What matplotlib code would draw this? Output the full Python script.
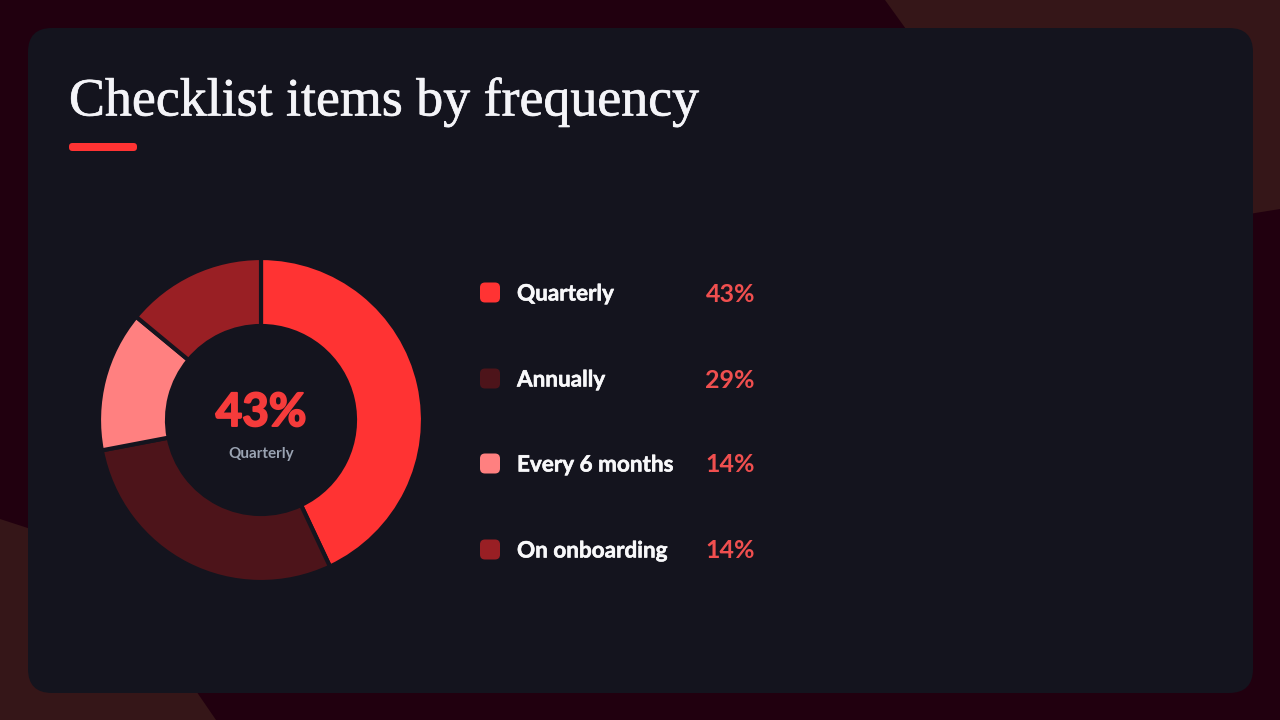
from matplotlib import pyplot as plt
from matplotlib import patheffects as pe
from matplotlib.patches import FancyBboxPatch, Polygon

categories = ['Quarterly', 'Annually', 'Every 6 months', 'On onboarding']
values = [43, 29, 14, 14]
pct_labels = ['43%', '29%', '14%', '14%']
slice_colors = ['#ff3333', '#4d141a', '#ff8080', '#991f24']

BG = '#21000f'
BLOB = '#351618'
CARD = '#14141e'

fig = plt.figure(figsize=(12.8, 7.2), dpi=100, facecolor=BG)

# background blobs, behind everything
bg_ax = fig.add_axes([0, 0, 1, 1], zorder=-1)
bg_ax.set_xlim(0, 1280)
bg_ax.set_ylim(720, 0)
bg_ax.axis('off')
bg_ax.add_patch(Polygon([(885, 0), (1280, 0), (1280, 209), (1150, 230), (950, 90)], color=BLOB, lw=0))
bg_ax.add_patch(Polygon([(0, 519), (40, 532), (120, 580), (216, 720), (0, 720)], color=BLOB, lw=0))
bg_ax.add_patch(FancyBboxPatch((28 + 24, 28 + 24), 1225 - 48, 665 - 48,
                               boxstyle='round,pad=24,rounding_size=24', fc=CARD, ec='none'))

# donut, axes placed by pixels
px, py, r = 261, 420, 162
pie_ax = fig.add_axes([(px - r) / 1280, 1 - (py + r) / 720, 2 * r / 1280, 2 * r / 720], zorder=1)
pie_ax.pie(values, colors=slice_colors, radius=1, startangle=90, counterclock=False,
           wedgeprops={'width': 68 / 162, 'edgecolor': CARD, 'linewidth': 3})
pie_ax.set_xlim(-1, 1)
pie_ax.set_ylim(-1, 1)

# text layer working in pixels, y goes down
ax = fig.add_axes([0, 0, 1, 1], zorder=2)
ax.set_xlim(0, 1280)
ax.set_ylim(720, 0)
ax.axis('off')

title = ax.text(69, 102, 'Checklist items by frequency', family='Liberation Serif', fontsize=38.8,
                color='#f4f4f8', va='center', ha='left')
title.set_path_effects([pe.withStroke(linewidth=0.5, foreground='#f4f4f8')])
ax.add_patch(FancyBboxPatch((72.5, 146.5), 61, 1, boxstyle='round,pad=3.5,rounding_size=3.5',
                            fc='#ff3333', ec='none'))

# legend rows
row_y = [292, 378, 463, 549]
for name, pct, col, y in zip(categories, pct_labels, slice_colors, row_y):
    ax.add_patch(FancyBboxPatch((485, y - 4.5), 10, 10, boxstyle='round,pad=5,rounding_size=5',
                                fc=col, ec='none'))
    t = ax.text(517, y + 2, name, family='Lato', weight='bold', fontsize=16.2, color='#f8f8fa',
                va='center', ha='left')
    t.set_path_effects([pe.withStroke(linewidth=0.4, foreground='#f8f8fa')])
    ax.text(755, y + 2, pct, family='Lato', weight='bold', fontsize=18, color='#f04f4f',
            va='center', ha='right')

big = ax.text(261, 413, pct_labels[0], family='Lato', weight='bold', fontsize=33, color='#f53b3b',
              va='center', ha='center')
big.set_path_effects([pe.withStroke(linewidth=1.4, foreground='#f53b3b')])
ax.text(261, 454, categories[0], family='Lato', weight='bold', fontsize=11, color='#9aa3b2',
        va='center', ha='center')

fig.savefig('out.png', dpi=100, facecolor=BG)
